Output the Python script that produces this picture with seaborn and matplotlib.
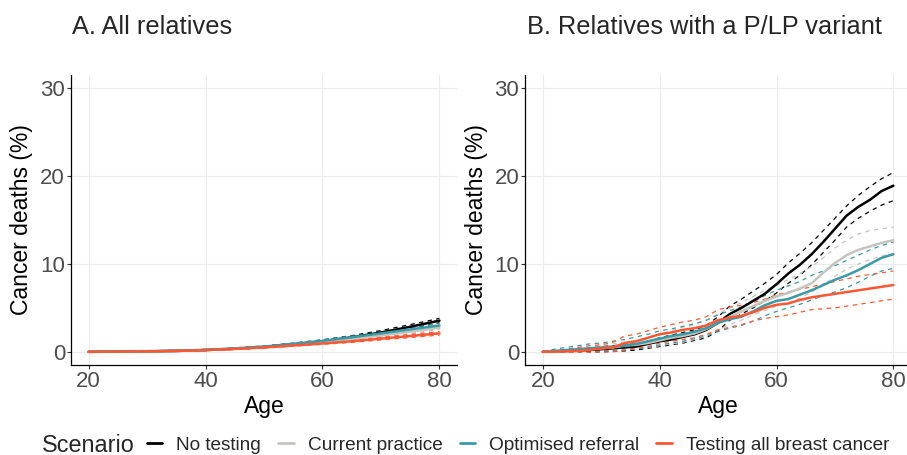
import numpy as np
import pandas as pd
import matplotlib
matplotlib.use("Agg")
import matplotlib.pyplot as plt
import seaborn as sns
from matplotlib.lines import Line2D

sns.set_theme(style="white")
plt.rcParams['font.family'] = ['Liberation Sans', 'DejaVu Sans']

scenarios = ["No testing", "Current practice", "Optimised referral", "Testing all breast cancer"]
colors = {"No testing": "#000000", "Current practice": "#C4C5BE",
          "Optimised referral": "#3A9AA6", "Testing all breast cancer": "#FF5634"}

# Panel A: all relatives (ages 20..80 step 5)
ages_a = [20, 25, 30, 35, 40, 45, 50, 55, 60, 65, 70, 75, 80]
a_mid = {
    "No testing":                [0, 0.02, 0.05, 0.10, 0.20, 0.35, 0.55, 0.85, 1.20, 1.65, 2.20, 2.85, 3.55],
    "Current practice":          [0, 0.02, 0.05, 0.10, 0.20, 0.35, 0.55, 0.80, 1.10, 1.45, 1.85, 2.30, 2.75],
    "Optimised referral":        [0, 0.05, 0.08, 0.13, 0.22, 0.38, 0.60, 0.90, 1.25, 1.65, 2.10, 2.55, 3.00],
    "Testing all breast cancer": [0, 0.02, 0.05, 0.10, 0.20, 0.33, 0.50, 0.72, 0.95, 1.20, 1.50, 1.80, 2.10],
}
a_up = {
    "No testing":                [0, 0.04, 0.08, 0.15, 0.26, 0.42, 0.65, 0.98, 1.36, 1.84, 2.42, 3.10, 3.80],
    "Current practice":          [0, 0.04, 0.08, 0.14, 0.25, 0.41, 0.63, 0.90, 1.22, 1.60, 2.03, 2.50, 2.98],
    "Optimised referral":        [0, 0.08, 0.12, 0.18, 0.28, 0.45, 0.68, 1.00, 1.37, 1.80, 2.27, 2.75, 3.22],
    "Testing all breast cancer": [0, 0.04, 0.08, 0.14, 0.25, 0.39, 0.57, 0.81, 1.06, 1.33, 1.65, 1.97, 2.30],
}
a_lo = {
    "No testing":                [0, 0.01, 0.03, 0.06, 0.15, 0.29, 0.46, 0.73, 1.06, 1.47, 1.99, 2.62, 3.32],
    "Current practice":          [0, 0.01, 0.03, 0.07, 0.16, 0.30, 0.48, 0.71, 0.99, 1.31, 1.68, 2.10, 2.53],
    "Optimised referral":        [0, 0.02, 0.05, 0.09, 0.17, 0.31, 0.52, 0.80, 1.13, 1.51, 1.93, 2.35, 2.78],
    "Testing all breast cancer": [0, 0.01, 0.03, 0.06, 0.15, 0.27, 0.43, 0.63, 0.85, 1.07, 1.35, 1.63, 1.90],
}

# Panel B: relatives with a P/LP variant (ages 20..80 step 2)
ages_b = list(range(20, 81, 2))
b_mid = {
    "No testing": [0, 0.05, 0.1, 0.15, 0.2, 0.3, 0.4, 0.5, 0.6, 0.9, 1.2, 1.4, 1.7, 2.0, 2.5, 3.3,
                   4.3, 5.0, 5.8, 6.6, 7.7, 8.9, 9.9, 11.1, 12.5, 14.0, 15.5, 16.5, 17.3, 18.3, 18.9],
    "Current practice": [0, 0.05, 0.1, 0.2, 0.3, 0.4, 0.5, 0.7, 0.8, 1.0, 1.3, 1.6, 1.8, 2.1, 2.6, 3.3,
                         4.0, 4.6, 5.2, 5.8, 6.3, 6.7, 7.2, 7.8, 9.0, 10.1, 11.0, 11.6, 12.0, 12.4, 12.7],
    "Optimised referral": [0, 0.1, 0.2, 0.3, 0.4, 0.5, 0.6, 0.7, 0.9, 1.2, 1.5, 1.8, 2.0, 2.3, 2.7, 3.3,
                           3.7, 4.0, 4.6, 5.3, 5.8, 6.0, 6.5, 7.0, 7.6, 8.2, 8.7, 9.3, 10.0, 10.7, 11.1],
    "Testing all breast cancer": [0, 0, 0.05, 0.1, 0.2, 0.4, 0.5, 1.0, 1.2, 1.6, 2.0, 2.2, 2.5, 2.7, 3.0, 3.6,
                                  3.9, 4.1, 4.5, 5.0, 5.35, 5.5, 5.9, 6.2, 6.4, 6.6, 6.8, 7.0, 7.2, 7.4, 7.6],
}
b_up = {
    "No testing": [0, 0.1, 0.2, 0.3, 0.4, 0.6, 0.7, 0.8, 0.9, 1.2, 1.6, 1.9, 2.2, 2.5, 3.0, 4.0,
                   5.2, 6.0, 6.9, 7.8, 8.8, 10.1, 11.2, 12.4, 13.8, 15.2, 16.6, 17.8, 18.8, 19.7, 20.4],
    "Current practice": [0, 0.1, 0.2, 0.4, 0.5, 0.7, 0.9, 1.1, 1.3, 1.6, 2.0, 2.4, 2.8, 3.1, 3.6, 4.3,
                         5.0, 5.6, 6.3, 7.0, 7.6, 8.2, 8.9, 9.7, 10.7, 11.8, 12.7, 13.4, 13.8, 14.0, 14.2],
    "Optimised referral": [0, 0.3, 0.5, 0.7, 0.9, 1.0, 1.2, 1.4, 1.7, 2.0, 2.4, 2.6, 2.9, 3.2, 3.6, 4.2,
                           4.7, 5.1, 5.7, 6.4, 7.0, 7.5, 8.0, 8.7, 9.2, 9.8, 10.4, 11.0, 11.6, 12.1, 12.5],
    "Testing all breast cancer": [0, 0.1, 0.3, 0.5, 0.7, 0.8, 1.1, 1.8, 2.0, 2.4, 2.8, 3.1, 3.4, 3.6, 4.0, 4.8,
                                  5.1, 5.3, 5.6, 6.0, 6.5, 6.8, 7.1, 7.4, 7.7, 8.0, 8.3, 8.6, 8.8, 9.0, 9.2],
}
b_lo = {
    "No testing": [0, 0, 0, 0, 0, 0, 0.05, 0.1, 0.2, 0.4, 0.6, 0.8, 1.0, 1.3, 1.6, 2.4,
                   3.6, 4.3, 5.0, 5.8, 6.7, 7.8, 8.7, 9.9, 11.3, 12.7, 14.2, 15.2, 16.0, 16.7, 17.2],
    "Current practice": [0, 0, 0, 0, 0.05, 0.1, 0.2, 0.3, 0.4, 0.5, 0.7, 0.9, 1.1, 1.4, 1.8, 2.5,
                         3.1, 3.6, 4.2, 4.7, 5.2, 5.6, 6.1, 6.8, 7.6, 8.6, 9.4, 10.0, 10.5, 10.9, 11.2],
    "Optimised referral": [0, 0, 0, 0, 0.05, 0.1, 0.15, 0.2, 0.3, 0.5, 0.8, 1.0, 1.2, 1.5, 1.8, 2.3,
                           2.7, 3.0, 3.5, 4.1, 4.6, 5.0, 5.4, 5.9, 6.4, 6.8, 7.3, 7.9, 8.6, 9.2, 9.5],
    "Testing all breast cancer": [0, 0, 0, 0, 0, 0, 0, 0.2, 0.4, 0.6, 1.0, 1.2, 1.4, 1.6, 2.0, 2.5,
                                  2.8, 3.1, 3.5, 3.8, 4.0, 4.2, 4.5, 4.8, 4.9, 5.0, 5.2, 5.4, 5.6, 5.8, 6.0],
}

W, H = 907, 455
fig = plt.figure(figsize=(W / 100, H / 100), dpi=100)
axA = fig.add_axes([71 / W, (H - 365) / H, 386 / W, 290 / H])
axB = fig.add_axes([525.3 / W, (H - 365) / H, 385.6 / W, 290 / H])


def draw(ax, ages, mid, up, lo):
    for s in scenarios:
        for d in (up, lo):
            sns.lineplot(x=ages, y=d[s], ax=ax, color=colors[s], linewidth=0.9,
                         dashes=False, legend=False)
            ax.lines[-1].set_dashes((3.5, 3.5))
    for s in scenarios:
        sns.lineplot(x=ages, y=mid[s], ax=ax, color=colors[s], linewidth=1.8, legend=False)
    ax.set_xlim(17, 83)
    ax.set_ylim(-1.5, 31.5)
    ax.set_xticks([20, 40, 60, 80])
    ax.set_yticks([0, 10, 20, 30])
    ax.grid(True, color="#EBEBEB", linewidth=0.8)
    ax.set_axisbelow(True)
    for sp in ("top", "right"):
        ax.spines[sp].set_visible(False)
    for sp in ("left", "bottom"):
        ax.spines[sp].set_color("black")
        ax.spines[sp].set_linewidth(0.9)
    ax.tick_params(axis="both", which="major", labelsize=16, labelcolor="#4D4D4D",
                   color="#333333", length=2.8, width=0.8, direction="out",
                   bottom=True, left=True, pad=1.5)
    ax.set_xlabel("Age", fontsize=16.5, color="black", labelpad=2)
    ax.set_ylabel("Cancer deaths (%)", fontsize=16.5, color="black", labelpad=5)
    ax.set_facecolor("white")


draw(axA, ages_a, a_mid, a_up, a_lo)
draw(axB, ages_b, b_mid, b_up, b_lo)

fig.text(72 / W, 1 - 27 / H, "A. All relatives", fontsize=18.3, va="center", ha="left")
fig.text(527 / W, 1 - 27 / H, "B. Relatives with a P/LP variant", fontsize=18.3, va="center", ha="left")

handles = [Line2D([0], [0], color=colors[s], linewidth=2) for s in scenarios]
fig.text(42 / W, 1 - 445 / H, "Scenario", fontsize=16.8, va="center", ha="left")
fig.legend(handles, scenarios, loc="center left", bbox_to_anchor=(147 / W, 1 - 445 / H),
           ncol=4, frameon=False, fontsize=13.7, handlelength=0.8, handletextpad=0.75,
           columnspacing=0.9, borderpad=0, borderaxespad=0)

fig.savefig("out.png", dpi=100, facecolor="white")
